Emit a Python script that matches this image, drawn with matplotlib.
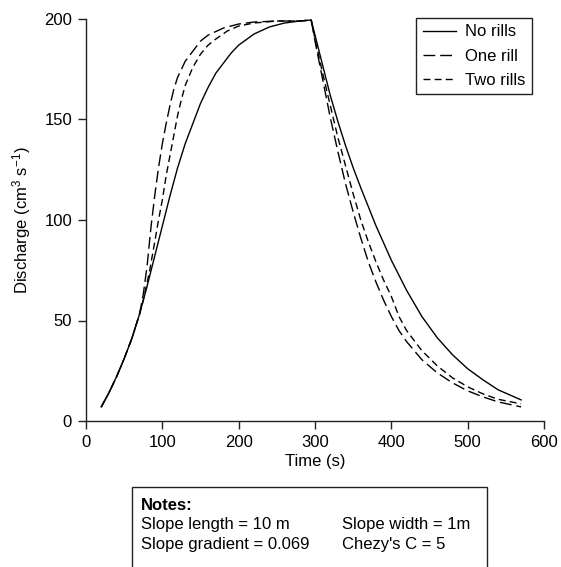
"""Hydrograph comparison: discharge from a slope with and without rills."""

import matplotlib
matplotlib.use("Agg")
import matplotlib.pyplot as plt
from matplotlib.patches import Rectangle

plt.rcParams["font.family"] = ["Liberation Sans", "DejaVu Sans"]
plt.rcParams["mathtext.fontset"] = "custom"
plt.rcParams["mathtext.rm"] = "Liberation Sans"
plt.rcParams["mathtext.default"] = "regular"

# time (s) and discharge (cm3/s)
t_none = [20, 30, 40, 50, 60, 70, 80, 90, 100, 110, 120, 130, 140, 150, 160,
          170, 180, 190, 200, 220, 240, 260, 280, 295,
          300, 310, 320, 330, 340, 350, 360, 380, 400, 420, 440, 460, 480,
          500, 520, 540, 570]
q_none = [7, 14, 22, 31, 41, 53, 67, 82, 97, 112, 126, 138, 148, 158, 166,
          173, 178, 183, 187, 192.5, 196, 198, 199, 199.5,
          192, 177, 162, 149, 137, 126, 116, 97, 80, 65, 52, 41.5, 33,
          26, 20.5, 15.5, 10.5]

t_one = [20, 30, 40, 50, 60, 70, 75, 80, 85, 90, 95, 100, 105, 110, 115,
         120, 130, 140, 150, 160, 180, 200, 220, 250, 280, 295,
         300, 310, 320, 330, 340, 350, 360, 370, 380, 390, 400, 410, 420,
         440, 460, 480, 500, 520, 540, 570]
q_one = [7, 14, 22, 31, 41, 53, 63, 77, 96, 112, 126, 138, 148, 157, 165,
         171, 179, 184, 189, 192, 195.5, 197.5, 198.5, 199, 199, 199.5,
         189, 170, 151, 134, 118, 104, 91, 79, 69, 60, 52, 45, 39.5,
         30.5, 24, 19, 15, 12, 9.5, 7]

t_two = [20, 30, 40, 50, 60, 70, 75, 83, 90, 95, 100, 105, 110, 115, 120,
         125, 130, 140, 150, 160, 170, 185, 200, 220, 250, 280, 295,
         300, 310, 320, 330, 340, 350, 360, 370, 380, 390, 400, 410, 420,
         440, 460, 480, 500, 520, 540, 570]
q_two = [7, 14, 22, 31, 41, 53, 60, 74, 89, 100, 110, 122, 132, 142, 152,
         160, 167, 176, 182.5, 187, 190, 194, 196.5, 198, 199, 199, 199.5,
         190, 173, 157, 141, 127, 113, 100, 89, 79, 70, 62, 52, 45,
         35, 27.5, 21.5, 17, 13.5, 10.8, 8.5]

labels = ["No rills", "One rill", "Two rills"]

fig = plt.figure(figsize=(5.61, 5.67), dpi=100)
ax = fig.add_axes([86 / 561, 1 - 421 / 567, 458 / 561, 402 / 567])

ax.plot(t_none, q_none, color="black", lw=1.0, ls="-", label=labels[0])
ax.plot(t_one, q_one, color="black", lw=1.0, ls=(0, (8.5, 3.5)), label=labels[1])
ax.plot(t_two, q_two, color="black", lw=1.0, ls=(0, (5, 3)), label=labels[2])

ax.set_xlim(0, 600)
ax.set_ylim(0, 200)
ax.set_xticks(range(0, 601, 100))
ax.set_yticks(range(0, 201, 50))
for side in ("top", "right"):
    ax.spines[side].set_visible(False)
for side in ("left", "bottom"):
    ax.spines[side].set_linewidth(1.0)
    ax.spines[side].set_color("#222")
ax.tick_params(direction="out", length=6, width=1.0, colors="#222",
               labelsize=12, labelcolor="black", pad=4)

ax.set_xlabel("Time (s)", fontsize=12, labelpad=3)
ax.set_ylabel(r"Discharge (cm$^3$ s$^{-1}$)", fontsize=12, labelpad=8)

leg = ax.legend(loc="upper right", bbox_to_anchor=(0.974, 1.003),
                borderaxespad=0, fontsize=12, handlelength=2.0,
                handletextpad=0.55, labelspacing=0.55, borderpad=0.4,
                fancybox=False, framealpha=1, edgecolor="#222")
leg.get_frame().set_linewidth(1.0)

# notes box, cut off by the lower edge of the figure
fig.patches.append(Rectangle((132 / 561, -0.05), (487 - 132) / 561,
                             (1 - 487 / 567) + 0.05, transform=fig.transFigure,
                             fill=False, edgecolor="#222", lw=1.0))
fig.text(141 / 561, 1 - 505 / 567, "Notes:", fontsize=12, fontweight="bold",
         va="center")
fig.text(141 / 561, 1 - 525 / 567, "Slope length = 10 m", fontsize=12, va="center")
fig.text(141 / 561, 1 - 545 / 567, "Slope gradient = 0.069", fontsize=12, va="center")
fig.text(342 / 561, 1 - 525 / 567, "Slope width = 1m", fontsize=12, va="center")
fig.text(342 / 561, 1 - 545 / 567, "Chezy's C = 5", fontsize=12, va="center")

fig.savefig("out.png", dpi=100)
plt.close(fig)
